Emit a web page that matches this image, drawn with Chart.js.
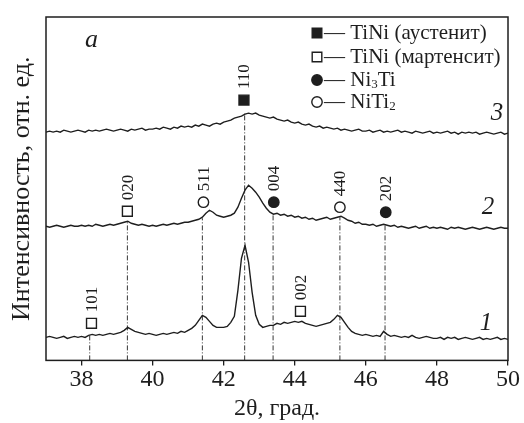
<!DOCTYPE html>
<html>
<head>
<meta charset="utf-8">
<script src="https://cdn.jsdelivr.net/npm/chart.js@4/dist/chart.umd.min.js"></script>
<style>
  html, body { margin: 0; padding: 0; background: #fff; }
  canvas { display: block; }
</style>
</head>
<body>
<canvas id="xrd" width="524" height="423"></canvas>
<script>
// scan: 37..50 deg, step 0.1
const scanStart = 37;
const scanStep = 0.1;

const curve3 = [
  228,229,228,229,228,230,229,228,229,230,
  229,228,230,229,230,229,230,231,230,229,
  230,231,230,229,231,230,231,232,230,231,
  231,232,231,233,232,231,233,232,234,233,
  234,233,235,234,236,235,234,236,237,236,
  238,239,240,242,243,244,246,247,246,247,
  245,244,243,242,243,241,240,239,240,238,
  237,238,236,235,236,234,233,234,232,233,
  232,231,232,230,231,230,229,230,231,229,
  229,230,228,229,230,228,229,228,229,230,
  228,229,228,227,229,228,227,228,229,227,
  228,227,228,229,227,228,226,228,227,228,
  227,228,226,227,228,227,226,227,228,226,
  227
];
const curve2 = [
  134,133,134,135,134,133,134,135,134,134,
  135,134,135,134,136,135,134,135,136,135,
  136,137,138,139,137,136,135,136,135,134,
  135,134,135,136,135,136,137,136,137,138,
  138,139,140,141,143,147,150,148,145,144,
  143,144,145,147,153,162,170,175,172,168,
  163,157,152,148,146,147,145,146,144,145,
  143,144,142,143,141,142,140,141,142,143,
  141,142,143,144,142,140,139,137,138,136,
  136,135,136,134,135,136,135,134,135,133,
  134,133,132,133,134,132,133,134,132,133,
  132,133,132,131,133,132,133,132,131,132,
  133,132,131,132,133,132,131,132,133,132,
  132
];
const curve1 = [
  23,24,23,22,23,24,22,23,24,23,
  24,23,25,26,25,26,25,26,27,26,
  27,28,30,33,31,29,28,27,26,27,
  26,25,26,27,26,27,28,27,29,28,
  30,32,35,40,45,43,39,35,33,33,
  33,34,38,44,70,102,115,98,68,45,
  36,33,34,35,35,37,36,38,37,38,
  39,38,39,37,36,35,34,35,36,37,
  38,41,45,43,38,33,29,27,26,25,
  26,25,24,25,24,29,26,24,25,24,
  23,24,23,25,23,22,23,24,23,22,
  22,23,21,23,22,23,21,22,23,22,
  21,22,23,21,22,21,22,23,21,22,
  21
];

const xTicks = [38, 40, 42, 44, 46, 48, 50];

// reflections: hkl, phase, marker position, drop line top (0 = none)
const reflLabels = ['101', '002', '020', '511', '004', '440', '202', '110'];
const reflPhase  = ['mart', 'mart', 'mart', 'niti2', 'ni3ti', 'niti2', 'ni3ti', 'aust'];
const reflX      = [38.28, 44.16, 39.29, 41.43, 43.41, 45.27, 46.56, 42.57];
const reflY      = [37, 49, 149, 158, 158, 153, 148, 260];
const dropX      = [38.23, 0, 39.29, 41.40, 43.39, 45.27, 46.54, 42.59];
const dropTop    = [27, 0, 139, 142, 146, 143, 135, 247];

const curveNames = ['3', '2', '1'];
const curveNameX = [49.69, 49.44, 49.38];
const curveNameY = [247, 153, 37];

const ink = '#1e1e1e';
const serif = '"Liberation Serif", "Times New Roman", serif';

const toPoints = vals => vals.map((v, i) => ({ x: Math.round((scanStart + i * scanStep) * 10) / 10, y: v }));

const phaseStyle = {
  aust:  { pointStyle: 'rect',   fill: ink },
  mart:  { pointStyle: 'rect',   fill: '#fff' },
  ni3ti: { pointStyle: 'circle', fill: ink },
  niti2: { pointStyle: 'circle', fill: '#fff' }
};

const datasets = [];
[curve3, curve2, curve1].forEach(c => {
  datasets.push({
    data: toPoints(c),
    borderColor: ink,
    borderWidth: 1.4,
    pointRadius: 0,
    tension: 0
  });
});

dropX.forEach((x, i) => {
  if (!dropTop[i]) return;
  datasets.push({
    data: [{ x: x, y: 0 }, { x: x, y: dropTop[i] }],
    borderColor: ink,
    borderWidth: 0.9,
    borderDash: [5, 2, 1, 2],
    pointRadius: 0
  });
});

Object.keys(phaseStyle).forEach(ph => {
  const st = phaseStyle[ph];
  const pts = [];
  reflX.forEach((x, i) => {
    if (reflPhase[i] === ph) pts.push({ x: x, y: reflY[i] });
  });
  datasets.push({
    type: 'scatter',
    data: pts,
    pointStyle: st.pointStyle,
    pointRadius: st.pointStyle === 'rect' ? 7 : 5.2,
    pointBackgroundColor: st.fill,
    pointBorderColor: ink,
    pointBorderWidth: 1.4,
    showLine: false
  });
});

const framePlugin = {
  id: 'frame',
  afterDatasetsDraw(chart) {
    const { ctx, chartArea: a } = chart;
    ctx.save();
    ctx.strokeStyle = ink;
    ctx.lineWidth = 1.5;
    ctx.strokeRect(a.left, a.top, a.right - a.left, a.bottom - a.top);
    ctx.restore();
  }
};

const textPlugin = {
  id: 'texts',
  afterDatasetsDraw(chart) {
    const { ctx } = chart;
    const xs = chart.scales.x, ys = chart.scales.y;
    ctx.save();
    ctx.fillStyle = ink;

    // hkl labels, rotated
    ctx.font = '17px ' + serif;
    reflLabels.forEach((lab, i) => {
      const px = xs.getPixelForValue(reflX[i]);
      const py = ys.getPixelForValue(reflY[i]);
      ctx.save();
      ctx.translate(px, py - 11);
      ctx.rotate(-Math.PI / 2);
      ctx.textAlign = 'left';
      ctx.textBaseline = 'middle';
      ctx.fillText(lab, 0, 1);
      ctx.restore();
    });

    // curve numbers
    ctx.font = 'italic 25px ' + serif;
    ctx.textAlign = 'center';
    ctx.textBaseline = 'middle';
    curveNames.forEach((n, i) => {
      ctx.fillText(n, xs.getPixelForValue(curveNameX[i]), ys.getPixelForValue(curveNameY[i]));
    });
    ctx.font = 'italic 26px ' + serif;
    ctx.fillText('a', xs.getPixelForValue(38.28), ys.getPixelForValue(320));

    // legend
    const rows = [
      { ph: 'aust',  parts: [['— TiNi (аустенит)', 0]] },
      { ph: 'mart',  parts: [['— TiNi (мартенсит)', 0]] },
      { ph: 'ni3ti', parts: [['— Ni', 0], ['3', 1], ['Ti', 0]] },
      { ph: 'niti2', parts: [['— NiTi', 0], ['2', 1]] }
    ];
    const rowY = [33, 57, 80, 102];
    rows.forEach((r, i) => {
      const st = phaseStyle[r.ph];
      const mx = 317, my = rowY[i];
      ctx.beginPath();
      if (st.pointStyle === 'rect') ctx.rect(mx - 4.8, my - 4.8, 9.6, 9.6);
      else ctx.arc(mx, my, 5.2, 0, Math.PI * 2);
      ctx.fillStyle = st.fill;
      ctx.fill();
      ctx.lineWidth = 1.4;
      ctx.strokeStyle = ink;
      ctx.stroke();
      ctx.fillStyle = ink;
      ctx.textAlign = 'left';
      ctx.textBaseline = 'middle';
      let tx = mx + 7;
      r.parts.forEach(([t, sub]) => {
        ctx.font = (sub ? '13px ' : '21px ') + serif;
        ctx.fillText(t, tx, my + (sub ? 5 : 0));
        tx += ctx.measureText(t).width;
      });
    });
    ctx.restore();
  }
};

new Chart(document.getElementById('xrd'), {
  type: 'line',
  data: { datasets: datasets },
  options: {
    responsive: false,
    animation: false,
    events: [],
    layout: { padding: { left: 3, top: 17, right: 16, bottom: 0 } },
    plugins: { legend: { display: false }, tooltip: { enabled: false } },
    scales: {
      x: {
        type: 'linear',
        min: 37,
        max: 50,
        afterBuildTicks: axis => { axis.ticks = xTicks.map(v => ({ value: v })); },
        grid: { drawOnChartArea: false, drawTicks: true, tickLength: 5, color: ink, lineWidth: 1.3 },
        border: { display: false },
        ticks: { color: ink, padding: 0, maxRotation: 0, font: { family: serif, size: 24 } },
        title: { display: true, text: '2θ, град.', color: ink, padding: { top: 0, bottom: 0 }, font: { family: serif, size: 24 } }
      },
      y: {
        min: 0,
        max: 343,
        grid: { display: false, drawTicks: false },
        border: { display: false },
        ticks: { display: false },
        title: { display: true, text: 'Интенсивность, отн. ед.', color: ink, padding: { top: 3.4, bottom: 8.4 }, font: { family: serif, size: 26 } }
      }
    }
  },
  plugins: [framePlugin, textPlugin]
});
</script>
</body>
</html>
